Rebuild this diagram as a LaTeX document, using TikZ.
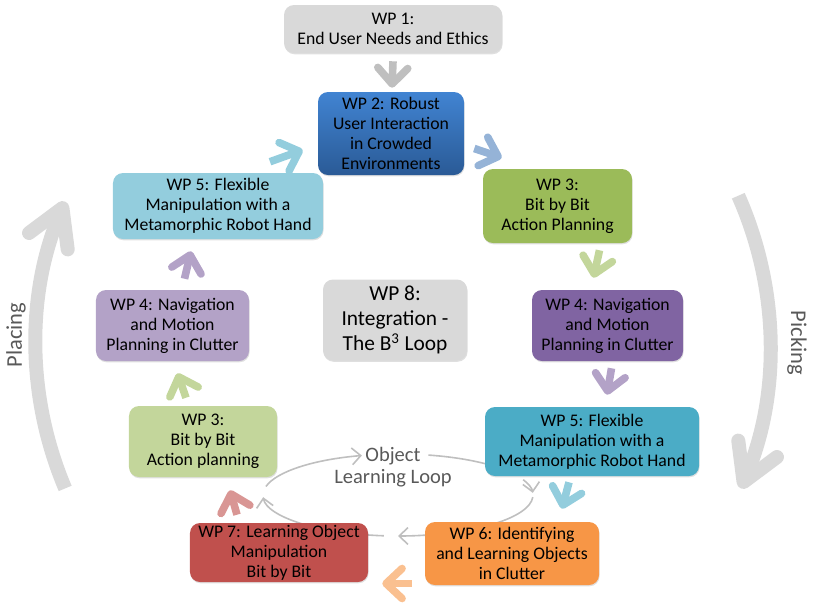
\documentclass[tikz,border=0pt]{standalone}
\usepackage{fontspec}
\setmainfont{Carlito}
\usetikzlibrary{arrows.meta,calc,shadows,backgrounds}

\definecolor{wpgrey}{HTML}{D9D9D9}
\definecolor{wpbluetop}{HTML}{4184D2}
\definecolor{wpbluebot}{HTML}{2A5A96}
\definecolor{wpgreen}{HTML}{9BBB59}
\definecolor{wppurple}{HTML}{8064A2}
\definecolor{wpteal}{HTML}{4BACC6}
\definecolor{wporange}{HTML}{F79646}
\definecolor{wpred}{HTML}{C0504D}
\definecolor{wplgreen}{HTML}{C3D69B}
\definecolor{wplpurple}{HTML}{B3A2C7}
\definecolor{wplblue}{HTML}{93CDDD}
\definecolor{chgrey}{HTML}{BFBFBF}
\definecolor{chblue}{HTML}{95B3D7}
\definecolor{chorange}{HTML}{FAC090}
\definecolor{chred}{HTML}{D99694}
\definecolor{txtgrey}{HTML}{595959}

\begin{document}
\begin{tikzpicture}[x=0.25mm, y=-0.25mm,
  wp/.style={rounded corners=2.5mm, align=center, inner sep=0pt, text=black,
    font=\fontsize{12.6}{14.2}\selectfont,
    drop shadow={shadow xshift=0.4pt, shadow yshift=-0.9pt, opacity=0.25}},
  chev/.style={draw=#1, line width=1.9mm, -{Straight Barb[length=4mm, width=7.5mm, round]}},
  bigarr/.style={draw=wpgrey, line width=3.5mm, -{Straight Barb[length=9mm, width=10.5mm, round]}},
  lp/.style={draw=chgrey, line width=0.4mm},
  lptip/.style={lp, -{Straight Barb[length=2.2mm, width=4.2mm]}},
  side/.style={text=txtgrey, font=\fontsize{16}{18}\selectfont}
]
\useasboundingbox (0,0) rectangle (814,602);

% boxes of the ring
\node[wp, fill=wpgrey, minimum width=54.5mm, minimum height=12mm] (wp1) at (393,29)
  {WP 1:\\End User Needs and Ethics};
\node[wp, top color=wpbluetop, bottom color=wpbluebot, minimum width=36.5mm, minimum height=20.75mm] (wp2) at (391,133.5)
  {WP 2: Robust\\User Interaction\\in Crowded\\Environments};
\node[wp, fill=wpgreen, minimum width=37.25mm, minimum height=18.5mm] (wp3r) at (557.5,206)
  {WP 3:\\Bit by Bit\\Action Planning};
\node[wp, fill=wppurple, minimum width=37.75mm, minimum height=17.75mm] (wp4r) at (607.5,325.5)
  {WP 4: Navigation\\and Motion\\Planning in Clutter};
\node[wp, fill=wpteal, minimum width=53.5mm, minimum height=17.25mm] (wp5r) at (592,441.5)
  {WP 5: Flexible\\Manipulation with a\\Metamorphic Robot Hand};
\node[wp, fill=wporange, minimum width=43.5mm, minimum height=15.75mm] (wp6) at (512,553.5)
  {WP 6: Identifying\\and Learning Objects\\in Clutter};
\node[wp, fill=wpred, minimum width=44.5mm, minimum height=14.75mm] (wp7) at (279,552.5)
  {WP 7: Learning Object\\Manipulation\\Bit by Bit};
\node[wp, fill=wplgreen, minimum width=37mm, minimum height=17.75mm] (wp3l) at (203,441.5)
  {WP 3:\\Bit by Bit\\Action planning};
\node[wp, fill=wplpurple, minimum width=38.25mm, minimum height=17.75mm] (wp4l) at (172.5,325.5)
  {WP 4: Navigation\\and Motion\\Planning in Clutter};
\node[wp, fill=wplblue, minimum width=52.5mm, minimum height=16.5mm] (wp5l) at (218,206)
  {WP 5: Flexible\\Manipulation with a\\Metamorphic Robot Hand};
\node[wp, fill=wpgrey, minimum width=36mm, minimum height=20.25mm,
  font=\fontsize{15.2}{18}\selectfont] (wp8) at (395,320)
  {WP 8:\\Integration -\\The B\textsuperscript{3} Loop};

% chevrons between the boxes
\draw[chev=chgrey] ($(wp1.south)+(0,8)$) -- ($(wp2.north)+(1,-4)$);
\draw[chev=chblue] ($(wp2.east)+(10,15)$) -- ($(wp3r.north west)+(19,-11)$);
\draw[chev=wplgreen] ($(wp3r.south)+(42,7)$) -- ($(wp4r.north)+(-14,-12)$);
\draw[chev=wplpurple] ($(wp4r.south)+(4,7)$) -- ($(wp5r.north)+(15,-12)$);
\draw[chev=wplblue] ($(wp5r.south)+(-23,6)$) -- ($(wp6.north)+(50,-13)$);
\draw[chev=chorange] ($(wp6.west)+(-13,30)$) -- ($(wp7.east)+(14,31)$);
\draw[chev=chred] ($(wp7.north)+(-42,-8)$) -- ($(wp3l.south)+(27,13)$);
\draw[chev=wplgreen] ($(wp3l.north)+(-17,-8)$) -- ($(wp4l.south)+(5,12)$);
\draw[chev=wplpurple] ($(wp4l.north)+(12,-11)$) -- ($(wp5l.south)+(-27,12)$);
\draw[chev=wplblue] ($(wp5l.north)+(52,-11)$) -- ($(wp2.west)+(-15,16.5)$);

% picking and placing
\coordinate (rc) at (403,345);
\draw[bigarr] (rc) ++(157:367) arc[start angle=157, end angle=203, radius=367];
\draw[bigarr] (rc) ++(-24:367) arc[start angle=-24, end angle=23, radius=367];
\node[side, rotate=90] (placing) at (16,335) {Placing};
\node[side, rotate=-90] (picking) at (797,343) {Picking};

% object learning loop
\node[text=txtgrey, align=center, font=\fontsize{14.6}{16}\selectfont] (olt) at (393,467)
  {Object\\Learning Loop};
\coordinate (lc) at (398,495);
\begin{scope}[on background layer]
\draw[lptip] (lc) ++(-168:135 and 41) arc[start angle=-168, end angle=-105.5, x radius=135, y radius=41];
\draw[lp] (lc) ++(-77:135 and 41) arc[start angle=-77, end angle=-40, x radius=135, y radius=41];
\draw[lptip] (lc) ++(-22:135 and 41) arc[start angle=-22, end angle=-3, x radius=135, y radius=41];
\draw[lp] (lc) ++(3:135 and 41) arc[start angle=3, end angle=45, x radius=135, y radius=41];
\draw[lptip] (lc) ++(75:135 and 41) arc[start angle=75, end angle=90, x radius=135, y radius=41];
\draw[lp] (lc) ++(96:135 and 41) arc[start angle=96, end angle=105, x radius=135, y radius=41];
\draw[lptip] (lc) ++(132:135 and 41) arc[start angle=132, end angle=177, x radius=135, y radius=41];
\end{scope}
\end{tikzpicture}
\end{document}
